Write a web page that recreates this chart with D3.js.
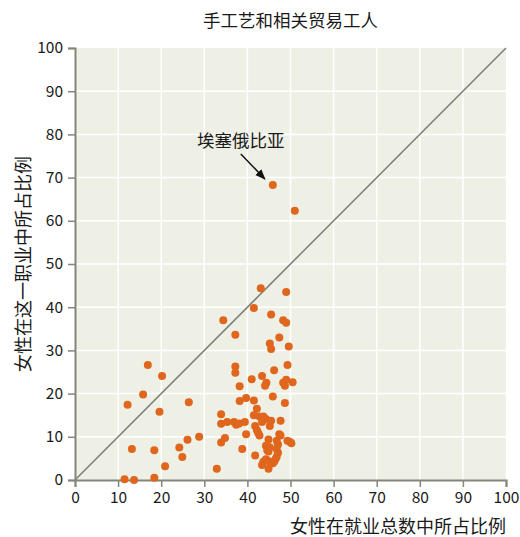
<!DOCTYPE html>
<html>
<head>
<meta charset="utf-8">
<script src="https://cdn.jsdelivr.net/npm/d3@7"></script>
<style>
  body { margin: 0; background: #fff; }
  svg text { font-family: "Noto Sans CJK SC", "Noto Sans", sans-serif; fill: #1a1a1a; }
</style>
</head>
<body>
<svg id="chart" width="520" height="537"></svg>
<script>
// share of women in total employment (x) vs share in this occupation (y)
var totalShare = [
  11.5, 13.7, 18.4, 20.9, 13.2, 18.4, 24.9, 24.2, 26.1, 28.8, 32.9, 19.6, 12.2, 15.8, 26.4, 16.9, 20.2,
  33.9, 34.8, 33.9, 33.9, 35.3, 34.4,
  37.2, 37.2, 37.2, 38.2, 38.2, 36.9, 37.4, 38.1, 39.4, 38.8, 39.7, 39.7, 41.0, 41.5, 41.5, 42.2,
  41.5, 42.8, 43.7, 44.3, 43.4, 41.8, 42.2, 42.5, 42.8, 41.8, 43.1, 43.4, 44.1, 44.4, 45.2, 45.5,
  45.2, 45.5, 45.5, 45.9, 46.2, 45.9, 44.9, 44.3, 44.6, 45.2, 44.9, 44.3, 43.7, 43.4, 44.6, 45.2,
  45.9, 44.9, 46.2, 46.5, 46.8, 47.1, 46.8, 47.1, 46.8, 47.4, 47.7, 47.7, 48.7, 48.3, 48.7, 49.0,
  50.5, 49.3, 49.6, 47.4, 48.3, 49.0, 49.0, 51.0, 49.3, 49.9, 50.2
];
var occupationShare = [
  0.2, 0, 0.5, 3.2, 7.2, 6.9, 5.3, 7.5, 9.3, 10.0, 2.6, 15.8, 17.4, 19.8, 18.0, 26.6, 24.1,
  8.7, 9.7, 15.2, 13.0, 13.4, 37.0,
  33.6, 26.3, 24.8, 21.7, 18.3, 13.4, 12.8, 13.1, 13.4, 7.2, 19.0, 10.6, 23.3, 39.8, 18.4, 16.5,
  15.0, 14.7, 14.7, 14.1, 13.4, 12.5, 11.6, 10.9, 10.3, 5.7, 44.4, 24.1, 21.8, 22.5, 12.5, 13.7,
  31.6, 30.3, 38.3, 19.3, 25.4, 68.3, 9.4, 7.9, 6.9, 7.6, 6.6, 4.8, 4.2, 3.5, 4.5, 4.2,
  3.9, 2.6, 4.2, 4.8, 5.4, 6.3, 7.2, 8.2, 9.1, 10.6, 10.3, 13.7, 17.8, 22.5, 21.8, 23.2,
  22.6, 26.6, 30.9, 33.0, 37.0, 36.4, 43.5, 62.3, 9.1, 8.8, 8.5
];
var tickValues = [0, 10, 20, 30, 40, 50, 60, 70, 80, 90, 100];
var titleText = "手工艺和相关贸易工人";
var xLabel = "女性在就业总数中所占比例";
var yLabel = "女性在这一职业中所占比例";
var noteLabel = "埃塞俄比亚";
var notePoint = [45.9, 68.3];

var margin = {top: 48, right: 14, bottom: 57, left: 75};
var svg = d3.select("#chart");
var width = 520 - margin.left - margin.right;
var height = 537 - margin.top - margin.bottom;

var xScale = d3.scaleLinear().domain([0, 100]).range([0, width]);
var yScale = d3.scaleLinear().domain([0, 100]).range([height, 0]);

var g = svg.append("g")
    .attr("transform", "translate(" + margin.left + "," + margin.top + ")");

g.append("rect")
    .attr("width", width)
    .attr("height", height)
    .style("fill", "#eef0e6");

// white grid
g.selectAll(".vgrid")
    .data(tickValues.slice(1, -1))
    .enter().append("line")
    .attr("x1", function(d){ return xScale(d); })
    .attr("x2", function(d){ return xScale(d); })
    .attr("y1", 0)
    .attr("y2", height)
    .style("stroke", "#fff")
    .style("stroke-width", 1.5);

g.selectAll(".hgrid")
    .data(tickValues.slice(1, -1))
    .enter().append("line")
    .attr("x1", 0)
    .attr("x2", width)
    .attr("y1", function(d){ return yScale(d); })
    .attr("y2", function(d){ return yScale(d); })
    .style("stroke", "#fff")
    .style("stroke-width", 1.5);

// equal share line
g.append("line")
    .attr("x1", xScale(0))
    .attr("y1", yScale(0))
    .attr("x2", xScale(100))
    .attr("y2", yScale(100))
    .style("stroke", "#7c7c72")
    .style("stroke-width", 1.5);

var xAxis = g.append("g")
    .attr("transform", "translate(0," + height + ")")
    .call(d3.axisBottom(xScale).tickValues(tickValues).tickSize(7).tickPadding(5));

var yAxis = g.append("g")
    .call(d3.axisLeft(yScale).tickValues(tickValues).tickSize(7).tickPadding(5));

[xAxis, yAxis].forEach(function(ax)
{
    ax.select(".domain").style("stroke", "#85857a").style("stroke-width", 2);
    ax.selectAll(".tick line").style("stroke", "#85857a").style("stroke-width", 1.5);
    ax.selectAll(".tick text")
        .style("font-size", "15.5px")
        .style("font-family", "'Noto Sans CJK SC', sans-serif")
        .style("fill", "#1a1a1a");
});

g.selectAll("circle")
    .data(totalShare)
    .enter().append("circle")
    .attr("cx", function(d){ return xScale(d); })
    .attr("cy", function(d, i){ return yScale(occupationShare[i]); })
    .attr("r", 4)
    .style("fill", "#e0661d");

// annotation
svg.append("defs").append("marker")
    .attr("id", "arrow")
    .attr("viewBox", "0 0 10 10")
    .attr("refX", 9)
    .attr("refY", 5)
    .attr("markerWidth", 7)
    .attr("markerHeight", 7)
    .attr("orient", "auto")
    .append("path")
    .attr("d", "M0,1 L10,5 L0,9 Z")
    .style("fill", "#111");

g.append("text")
    .attr("x", xScale(notePoint[0]) - 32)
    .attr("y", yScale(notePoint[1]) - 38)
    .attr("text-anchor", "middle")
    .style("font-size", "17.5px")
    .text(noteLabel);

g.append("line")
    .attr("x1", xScale(notePoint[0]) - 32)
    .attr("y1", yScale(notePoint[1]) - 31)
    .attr("x2", xScale(notePoint[0]) - 8)
    .attr("y2", yScale(notePoint[1]) - 6)
    .style("stroke", "#111")
    .style("stroke-width", 1.5)
    .attr("marker-end", "url(#arrow)");

svg.append("text")
    .attr("x", margin.left + width / 2)
    .attr("y", 27)
    .attr("text-anchor", "middle")
    .style("font-size", "17.5px")
    .text(titleText);

svg.append("text")
    .attr("x", margin.left + width)
    .attr("y", 533)
    .attr("text-anchor", "end")
    .style("font-size", "18px")
    .text(xLabel);

svg.append("text")
    .attr("transform", "translate(30," + 264 + ") rotate(-90)")
    .attr("text-anchor", "middle")
    .style("font-size", "18px")
    .text(yLabel);
</script>
</body>
</html>
